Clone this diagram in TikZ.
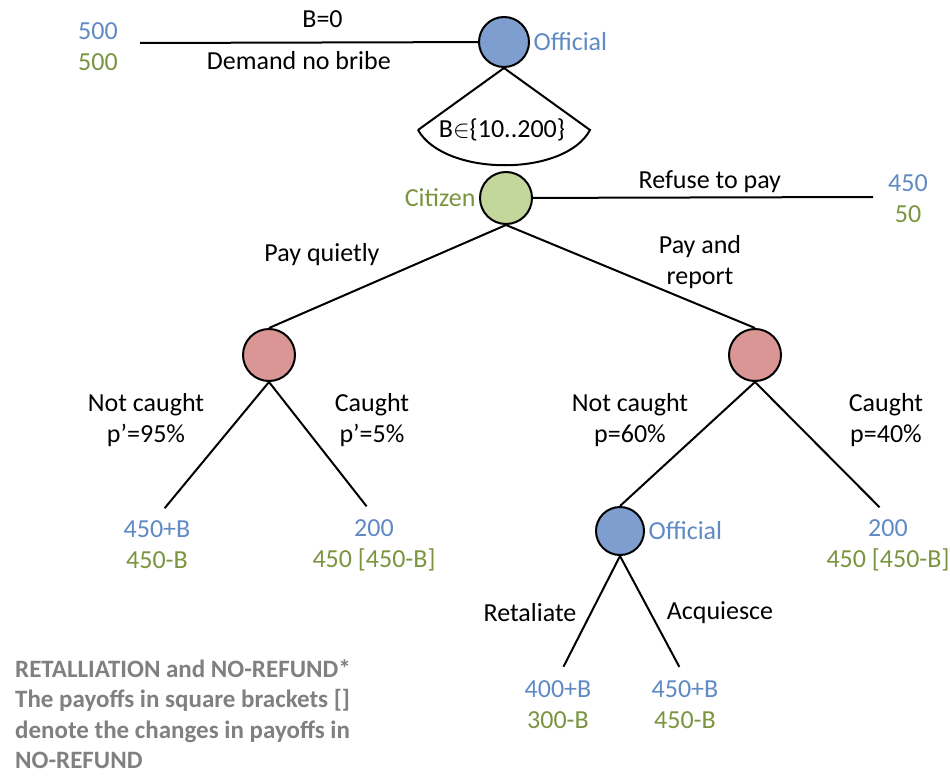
\documentclass[tikz,border=0pt]{standalone}
\usepackage{fontspec}
\setmainfont{Carlito}
\usetikzlibrary{positioning}
\definecolor{offfill}{RGB}{125,158,207}
\definecolor{citfill}{RGB}{195,214,155}
\definecolor{natfill}{RGB}{217,150,148}
\definecolor{offtext}{RGB}{95,138,196}
\definecolor{cittext}{RGB}{122,148,64}
\definecolor{notetext}{RGB}{128,128,128}
\tikzstyle{official} = [circle, draw, line width=2pt, fill=offfill, minimum size=50pt, inner sep=0pt]
\tikzstyle{citizen} = [official, fill=citfill, minimum size=52pt]
\tikzstyle{nature} = [official, fill=natfill, minimum size=52pt]
\tikzstyle{payoff} = [align=center]
\tikzstyle{line} = [draw, line width=2pt]
\tikzstyle{leaf} = [line, shorten >=12pt]

\begin{document}
\begin{tikzpicture}[x=1pt, y=-1pt, every node/.append style={font=\fontsize{26}{31}\selectfont}]
    \useasboundingbox (0,0) rectangle (950,776);
    % Place nodes
    \node [official] (off1) at (504,42) {};
    \node [right=0pt of off1, text=offtext] (off1lbl) {Official};
    \node [payoff] (pay0) at (98,47) {\color{offtext}500\\\color{cittext}500};
    \coordinate (c0) at (140,43);
    \coordinate (fanl) at (418,130);
    \coordinate (fanr) at (590,130);
    \node (bset) at (502,130) {B$\in$\{10..200\}};
    \node [citizen] (cit) at (506,198) {};
    \node [left=0pt of cit, text=cittext] (citlbl) {Citizen};
    \coordinate (c1) at (873,197);
    \node [payoff] (pay1) at (908,199) {\color{offtext}450\\\color{cittext}50};
    \node [nature] (natq) at (269,355) {};
    \node [nature] (natr) at (755,355) {};
    \node (lblquiet) at (322,255) {Pay quietly};
    \node [align=center] (lblreport) at (700,262) {Pay and\\report};
    \node [align=center] (lblqnot) at (146,420) {Not caught\\p’=95\%};
    \node [align=center] (lblqcaught) at (372,420) {Caught\\p’=5\%};
    \node [align=center] (lblrnot) at (630,420) {Not caught\\p=60\%};
    \node [align=center] (lblrcaught) at (886,420) {Caught\\p=40\%};
    \node [payoff] (payqn) at (157,545) {\color{offtext}450+B\\\color{cittext}450-B};
    \node [payoff] (payqc) at (374,545) {\color{offtext}200\\\color{cittext}450 [450-B]};
    \node [payoff] (payrc) at (888,545) {\color{offtext}200\\\color{cittext}450 [450-B]};
    \node [official, minimum size=48pt] (off2) at (620,531) {};
    \node [right=0pt of off2, text=offtext] (off2lbl) {Official};
    \node (lblret) at (530,613) {Retaliate};
    \node (lblacq) at (720,613) {Acquiesce};
    \node [payoff] (payret) at (558,705) {\color{offtext}400+B\\\color{cittext}300-B};
    \node [payoff] (payacq) at (685,705) {\color{offtext}450+B\\\color{cittext}450-B};
    \node [anchor=north west, align=left, inner sep=0pt, text=notetext, font=\fontsize{25}{30.5}\selectfont\bfseries] (note) at (15,659)
        {RETALLIATION and NO-REFUND*\\The payoffs in square brackets []\\denote the changes in payoffs in\\NO-REFUND};
    % Draw edges
    \path [line] (c0) -- (off1) node[pos=0.54, above=10pt] (lblzero) {B=0} node[pos=0.47, below=5pt] (lbldemand) {Demand no bribe};
    \path [line] (fanl) -- (off1.south) -- (fanr) .. controls (565,177) and (445,177) .. (fanl);
    \path [line] (cit) -- (c1) node[pos=0.52, above=0pt] (lblrefuse) {Refuse to pay};
    \path [line] (cit.south) -- (natq.north);
    \path [line] (cit.south) -- (natr.north);
    \path [leaf] (natq.south) -- (payqn.north);
    \path [leaf] (natq.south) -- (payqc.north);
    \path [line] (natr.south) -- (off2.north);
    \path [leaf] (natr.south) -- (payrc.north);
    \path [leaf] (off2.south) -- (payret.north);
    \path [leaf] (off2.south) -- (payacq.north);
\end{tikzpicture}
\end{document}
